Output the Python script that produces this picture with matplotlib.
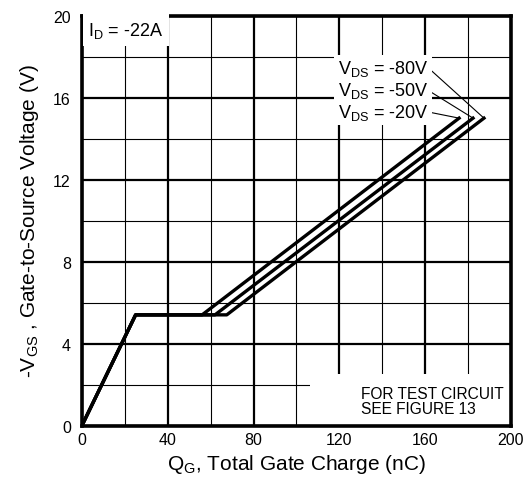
import matplotlib
matplotlib.use("Agg")
import matplotlib.pyplot as plt
from matplotlib.patches import Rectangle

plt.rcParams['font.family'] = ['Liberation Sans', 'DejaVu Sans']
plt.rcParams['mathtext.fontset'] = 'custom'
plt.rcParams['mathtext.rm'] = 'Liberation Sans'
plt.rcParams['mathtext.it'] = 'Liberation Sans'

# gate charge curves
vgs = [0, 5.4, 5.4, 15.0]
qg_vds80 = [0, 25, 67.5, 187.4]
qg_vds50 = [0, 25, 62.0, 182.3]
qg_vds20 = [0, 25, 56.0, 175.8]
curves = [qg_vds80, qg_vds50, qg_vds20]
vds_labels = ["-80V", "-50V", "-20V"]

x_major = [0, 40, 80, 120, 160, 200]
x_minor = [20, 60, 100, 140, 180]
y_major = [0, 4, 8, 12, 16, 20]
y_minor = [2, 6, 10, 14, 18]

fig = plt.figure(figsize=(5.32, 4.81), dpi=100)
ax = fig.add_axes([0.1541, 0.1133, 0.8064, 0.852])

ax.set_xlim(0, 200)
ax.set_ylim(0, 20)
ax.set_xticks(x_major)
ax.set_xticks(x_minor, minor=True)
ax.set_yticks(y_major)
ax.set_yticks(y_minor, minor=True)
ax.tick_params(which='both', length=0)
ax.tick_params(axis='x', pad=5, labelsize=11.5)
ax.tick_params(axis='y', pad=8, labelsize=11.5)
ax.set_axisbelow(True)
ax.grid(which='major', color='black', lw=1.6)
ax.grid(which='minor', color='black', lw=0.8)
for s in ax.spines.values():
    s.set_linewidth(2.6)

# blank area behind the test circuit note
ax.add_patch(Rectangle((106.5, 0), 93.5, 2.5, facecolor='white', edgecolor='none', zorder=1))

for qg in curves:
    ax.plot(qg, vgs, color='black', lw=2.4, zorder=2)

ax.text(3, 19.3, r"$\mathregular{I_D}$ = -22A", fontsize=13, va='center', ha='left',
        bbox=dict(facecolor='white', edgecolor='none', pad=4), zorder=3)

label_y = [17.45, 16.35, 15.3]
for qg, lab, ly in zip(curves, vds_labels, label_y):
    ax.annotate(r"$\mathregular{V_{DS}}$ = " + lab, xy=(qg[-1], vgs[-1]), xytext=(161.5, ly),
                ha='right', va='center', fontsize=13,
                bbox=dict(facecolor='white', edgecolor='none', pad=2.5),
                arrowprops=dict(arrowstyle='-', lw=0.8, color='black', relpos=(1, 0.5),
                                shrinkA=0, shrinkB=0),
                zorder=3)

ax.text(130.0, 1.2, "FOR TEST CIRCUIT\nSEE FIGURE 13", fontsize=11.2, ha='left', va='center',
        linespacing=0.95, zorder=3)

ax.set_xlabel(r"Q$_\mathregular{G}$, Total Gate Charge (nC)", fontsize=15, labelpad=3)
ax.set_ylabel(r"-V$_\mathregular{GS}$ , Gate-to-Source Voltage (V)", fontsize=15, labelpad=9)

fig.savefig("out.png", dpi=100)
